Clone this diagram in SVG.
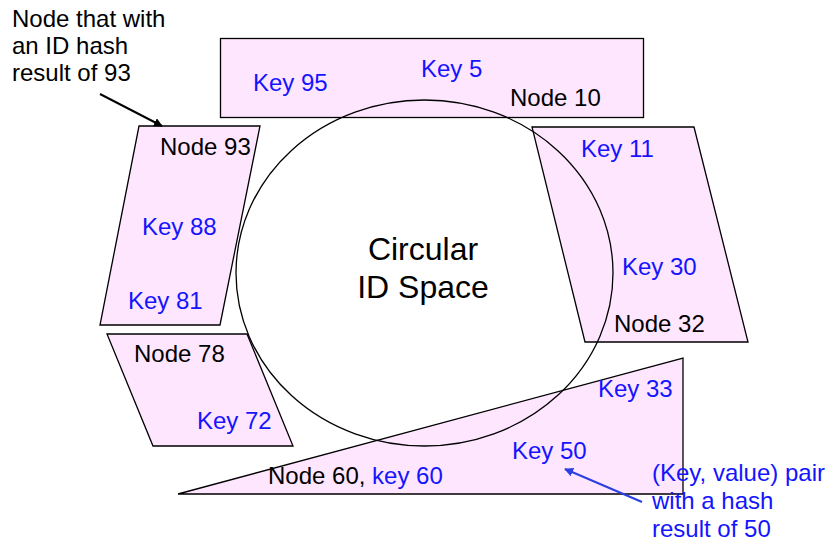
<svg xmlns="http://www.w3.org/2000/svg" width="829" height="546" viewBox="0 0 829 546">
  <defs>
    <style>
      .zone { fill: #FFE6FF; stroke: #000; stroke-width: 1.3; }
      text { font-family: "Liberation Sans", Arial, sans-serif; font-size: 24px; }
      .k { fill: #1414FF; }
      .n { fill: #000; }
      .big { font-size: 32px; fill: #000; text-anchor: middle; }
    </style>
    <marker id="headBlack" viewBox="0 0 10 10" refX="9" refY="5" markerWidth="9" markerHeight="9" markerUnits="userSpaceOnUse" orient="auto">
      <path d="M0,0 L10,5 L0,10 z" fill="#000"/>
    </marker>
    <marker id="headBlue" viewBox="0 0 10 10" refX="9" refY="5" markerWidth="9" markerHeight="9" markerUnits="userSpaceOnUse" orient="auto">
      <path d="M0,0 L10,5 L0,10 z" fill="#2A3FE0"/>
    </marker>
  </defs>

  <!-- node 10: keys 95, 5 -->
  <g id="node10">
    <rect class="zone" x="220.5" y="38.5" width="423" height="79"/>
    <text class="k" x="253" y="91">Key 95</text>
    <text class="k" x="421" y="77">Key 5</text>
    <text class="n" x="510" y="106">Node 10</text>
  </g>

  <!-- node 32: keys 11, 30 -->
  <g id="node32">
    <polygon class="zone" points="532,127 694,127 748,342 585,342"/>
    <text class="k" x="581" y="157">Key 11</text>
    <text class="k" x="622" y="275">Key 30</text>
    <text class="n" x="614" y="332">Node 32</text>
  </g>

  <!-- node 93: keys 88, 81 -->
  <g id="node93">
    <polygon class="zone" points="139,126 260,126 220,325 100,325"/>
    <text class="n" x="160" y="155">Node 93</text>
    <text class="k" x="142" y="235">Key 88</text>
    <text class="k" x="128" y="309">Key 81</text>
  </g>

  <!-- node 78: key 72 -->
  <g id="node78">
    <polygon class="zone" points="107,334 247,334 293,446 153,446"/>
    <text class="n" x="134" y="362">Node 78</text>
    <text class="k" x="197" y="429">Key 72</text>
  </g>

  <!-- node 60: keys 33, 50, 60 -->
  <g id="node60">
    <polygon class="zone" points="178,494 683,358 683,494"/>
    <text class="k" x="598" y="397">Key 33</text>
    <text class="k" x="512" y="459">Key 50</text>
    <text x="268" y="484"><tspan class="n">Node 60, </tspan><tspan class="k">key 60</tspan></text>
  </g>

  <!-- the identifier ring -->
  <g id="ring">
    <ellipse cx="424.5" cy="273" rx="188.5" ry="173" fill="none" stroke="#000" stroke-width="1.3"/>
    <text class="big" x="423" y="260">Circular</text>
    <text class="big" x="423" y="298">ID Space</text>
  </g>

  <!-- callouts -->
  <g id="note-node">
    <text class="n" x="12" y="27">Node that with</text>
    <text class="n" x="12" y="54">an ID hash</text>
    <text class="n" x="12" y="81">result of 93</text>
  </g>
  <g id="note-key">
    <text class="k" x="652" y="481">(Key, value) pair</text>
    <text class="k" x="652" y="509">with a hash</text>
    <text class="k" x="652" y="537">result of 50</text>
  </g>

  <g id="connectors">
    <line x1="100" y1="94" x2="162" y2="126" stroke="#000" stroke-width="2" marker-end="url(#headBlack)"/>
    <line x1="642" y1="502" x2="565" y2="469" stroke="#2A3FE0" stroke-width="2" marker-end="url(#headBlue)"/>
  </g>
</svg>
